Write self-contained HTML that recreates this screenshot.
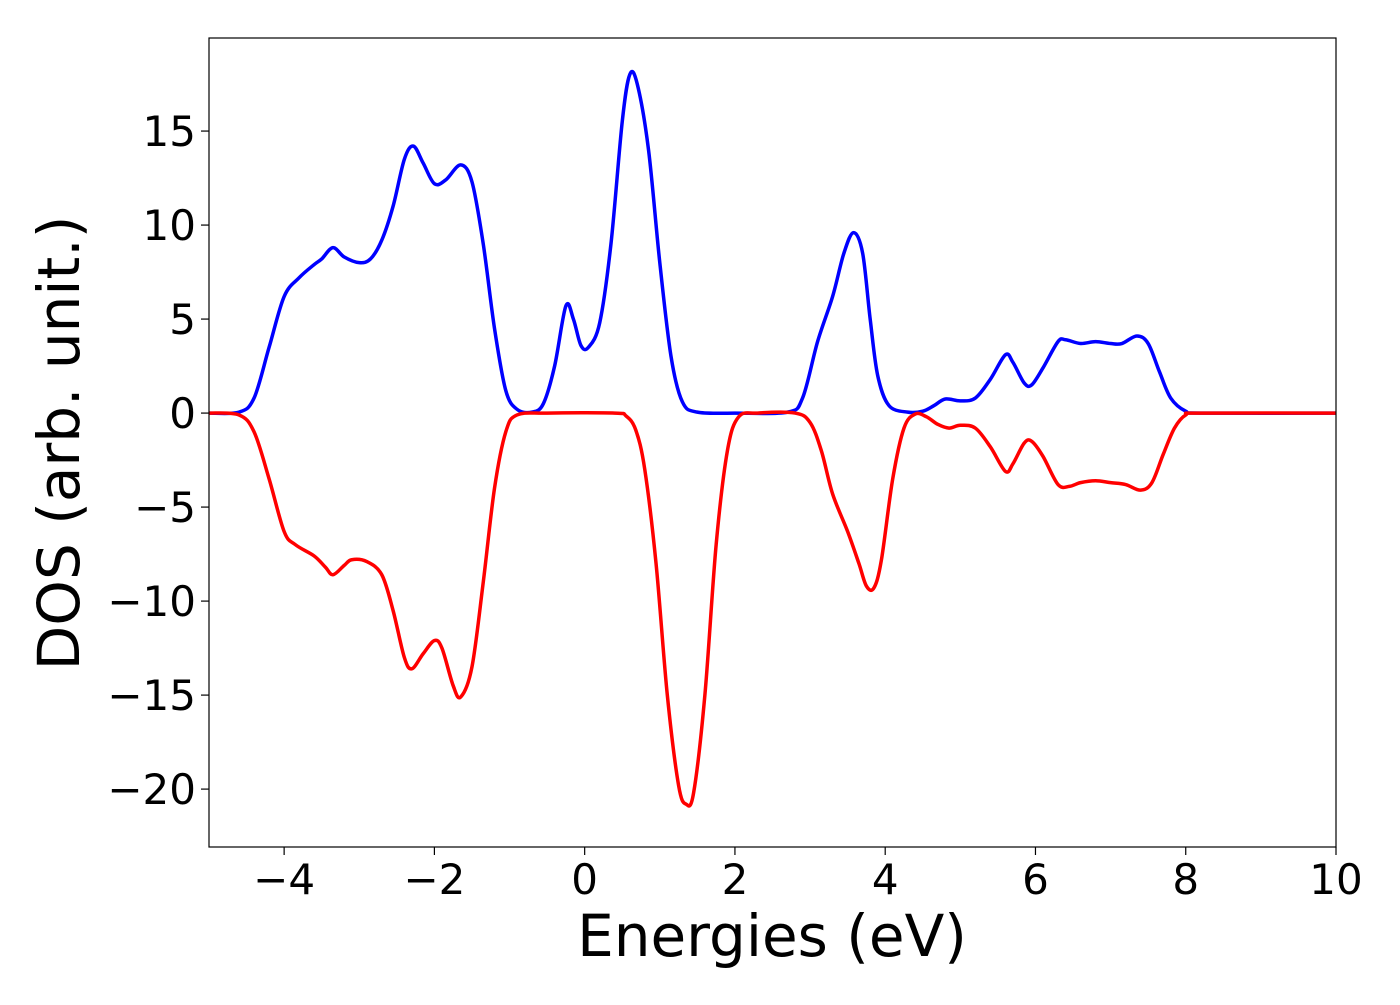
<!DOCTYPE html>
<html><head><meta charset="utf-8"><style>
html,body{margin:0;padding:0;background:#fff;}
svg text{font-family:"DejaVu Sans","Liberation Sans",sans-serif;fill:#000;}
</style></head><body>
<svg id="chart" width="1400" height="1000" xmlns="http://www.w3.org/2000/svg">
<g id="ticks"></g>
<g id="series"></g>
<rect x="209" y="38" width="1127" height="809" fill="none" stroke="#000" stroke-width="1.2"/>
<text x="772" y="956" font-size="58" text-anchor="middle">Energies (eV)</text>
<text x="0" y="0" font-size="58" text-anchor="middle" transform="translate(79,443) rotate(-90)">DOS (arb. unit.)</text>
</svg>
<script>
const xTicks = [-4,-2,0,2,4,6,8,10];
const yTicks = [-20,-15,-10,-5,0,5,10,15];
const energyUp = [-5,-4.6,-4.4,-4.2,-4.0,-3.8,-3.6,-3.5,-3.35,-3.2,-3.0,-2.85,-2.7,-2.55,-2.4,-2.28,-2.15,-2.0,-1.85,-1.65,-1.5,-1.35,-1.2,-1.05,-0.9,-0.7,-0.55,-0.4,-0.25,-0.15,-0.05,0.05,0.2,0.35,0.5,0.6,0.7,0.85,1.0,1.15,1.3,1.5,2.0,2.7,2.9,3.1,3.3,3.45,3.58,3.7,3.8,3.9,4.05,4.3,4.5,4.65,4.8,5.0,5.2,5.4,5.6,5.7,5.85,5.95,6.1,6.3,6.4,6.6,6.8,7.0,7.15,7.35,7.5,7.65,7.8,8.0,8.2,10];
const dosUp = [0,0.05,0.8,3.5,6.2,7.2,7.9,8.2,8.8,8.3,8.0,8.2,9.2,11,13.5,14.2,13.3,12.2,12.4,13.2,12.3,9,4.5,1.2,0.2,0.05,0.5,2.5,5.7,5,3.6,3.5,4.8,9,15.5,18,17.5,14,8,3,0.6,0.05,0,0.05,0.8,3.8,6.2,8.5,9.6,8.5,5,2,0.4,0.05,0.1,0.4,0.75,0.65,0.8,1.8,3.1,2.7,1.6,1.5,2.4,3.8,3.9,3.7,3.8,3.7,3.7,4.1,3.7,2.2,0.8,0.1,0,0];
const energyDown = [-5,-4.6,-4.4,-4.2,-4.0,-3.85,-3.6,-3.45,-3.35,-3.2,-3.1,-2.9,-2.7,-2.55,-2.4,-2.3,-2.15,-2.0,-1.9,-1.75,-1.65,-1.5,-1.35,-1.2,-1.05,-0.9,-0.5,0.4,0.55,0.68,0.8,0.95,1.1,1.25,1.35,1.45,1.6,1.75,1.9,2.05,2.3,2.8,3.0,3.15,3.3,3.5,3.65,3.75,3.85,3.95,4.1,4.25,4.4,4.55,4.7,4.85,5.0,5.2,5.4,5.6,5.7,5.85,5.95,6.1,6.3,6.45,6.6,6.8,7.0,7.2,7.4,7.55,7.7,7.85,8.0,8.2,10];
const dosDown = [0,-0.1,-1,-3.5,-6.3,-7,-7.6,-8.2,-8.6,-8.1,-7.8,-7.9,-8.6,-10.5,-13,-13.6,-12.8,-12.1,-12.5,-14.5,-15.1,-13.5,-9,-4,-1,-0.1,0,0,-0.15,-0.9,-3,-8,-15,-19.8,-20.8,-20.2,-15,-7,-2,-0.2,0,0,-0.5,-2,-4.3,-6.3,-8,-9.2,-9.3,-7.8,-3.5,-0.8,-0.05,-0.2,-0.6,-0.8,-0.65,-0.8,-1.8,-3.1,-2.7,-1.6,-1.5,-2.3,-3.8,-3.9,-3.7,-3.6,-3.7,-3.8,-4.1,-3.7,-2.2,-0.8,-0.1,0,0];

const X0=209,X1=1336,Y0=38,Y1=847;
const xMin=-5,xMax=10,yMax=19.95,yMin=-23.08;
const sx=v=>X0+(v-xMin)/(xMax-xMin)*(X1-X0);
const sy=v=>Y0+(yMax-v)/(yMax-yMin)*(Y1-Y0);
const NS="http://www.w3.org/2000/svg";
const tg=document.getElementById('ticks');
xTicks.forEach(t=>{
  const l=document.createElementNS(NS,'line');
  
  
  l.setAttribute('x1',sx(t));l.setAttribute('x2',sx(t));l.setAttribute('y1',Y1);l.setAttribute('y2',Y1+8);l.setAttribute('stroke','#000');l.setAttribute('stroke-width','1.2');
  tg.appendChild(l);
  const tx=document.createElementNS(NS,'text');
  
  
  tx.setAttribute('x',sx(t));tx.setAttribute('y',894);tx.setAttribute('font-size','42');tx.setAttribute('text-anchor','middle');
  tx.textContent=(t<0?'\u2212':'')+Math.abs(t);
  tg.appendChild(tx);
});
yTicks.forEach(t=>{
  const l=document.createElementNS(NS,'line');
  
  
  l.setAttribute('x1',X0-8);l.setAttribute('x2',X0);l.setAttribute('y1',sy(t));l.setAttribute('y2',sy(t));l.setAttribute('stroke','#000');l.setAttribute('stroke-width','1.2');
  tg.appendChild(l);
  const tx=document.createElementNS(NS,'text');
  
  
  tx.setAttribute('x',196);tx.setAttribute('y',sy(t)+15);tx.setAttribute('font-size','42');tx.setAttribute('text-anchor','end');
  tx.textContent=(t<0?'\u2212':'')+Math.abs(t);
  tg.appendChild(tx);
});
function pathFor(xs,ys){
  const p=xs.map((x,i)=>[sx(x),sy(ys[i])]);
  let d='M'+p[0][0]+','+p[0][1];
  for(let i=0;i<p.length-1;i++){
    const a=p[Math.max(0,i-1)],b=p[i],c=p[i+1],e=p[Math.min(p.length-1,i+2)];
    const c1=[b[0]+(c[0]-a[0])/6,b[1]+(c[1]-a[1])/6];
    const c2=[c[0]-(e[0]-b[0])/6,c[1]-(e[1]-b[1])/6];
    d+=' C'+c1[0]+','+c1[1]+' '+c2[0]+','+c2[1]+' '+c[0]+','+c[1];
  }
  return d;
}
const sg=document.getElementById('series');
const up=document.createElementNS(NS,'path');


up.setAttribute('d',pathFor(energyUp,dosUp));up.setAttribute('fill','none');up.setAttribute('stroke','#0000ff');up.setAttribute('stroke-width','3.5');
sg.appendChild(up);
const down=document.createElementNS(NS,'path');


down.setAttribute('d',pathFor(energyDown,dosDown));down.setAttribute('fill','none');down.setAttribute('stroke','#ff0000');down.setAttribute('stroke-width','3.5');
sg.appendChild(down);
</script>
</body></html>
